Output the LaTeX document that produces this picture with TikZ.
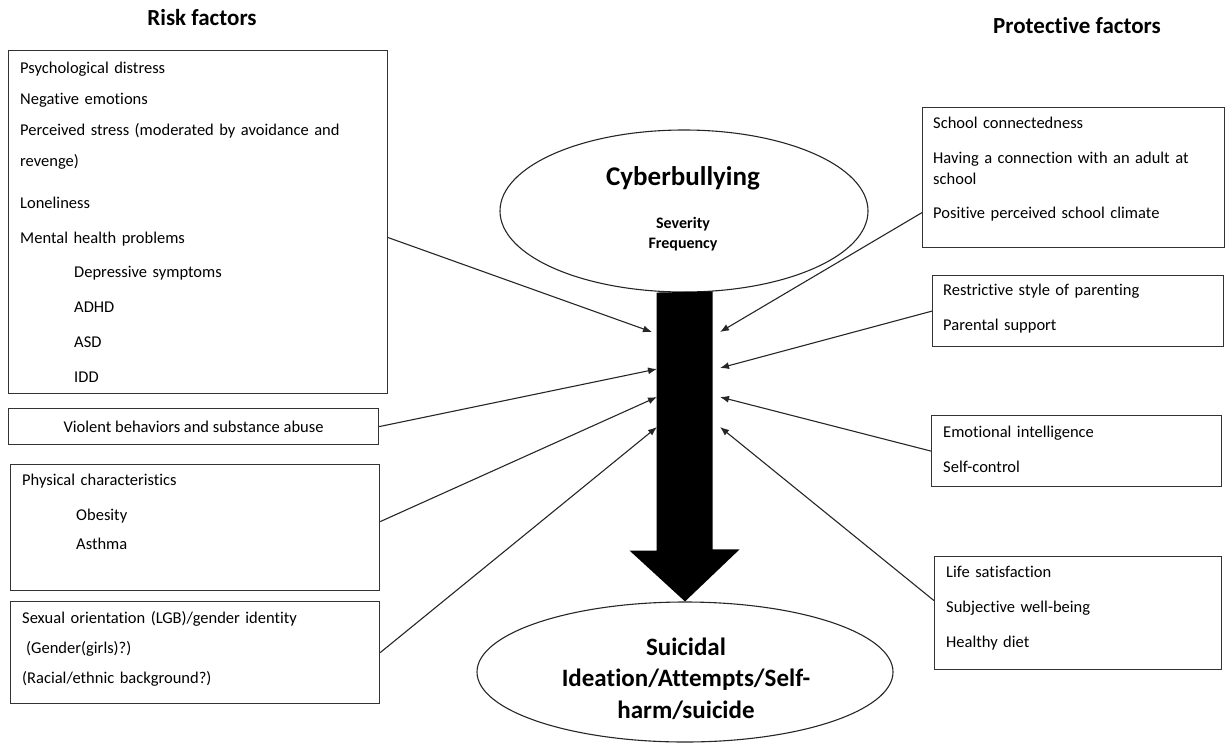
\documentclass[tikz,border=0pt]{standalone}
\usepackage{fontspec}
\setmainfont{Carlito}[Ligatures=NoCommon]
\usetikzlibrary{shapes.geometric,arrows.meta}

\tikzset{
  factbox/.style={draw=black!80, line width=1.2pt, anchor=north west, inner sep=0pt},
  factlist/.style={anchor=base west, align=left, text width=370pt, inner sep=0pt,
    font=\fontsize{16.5}{31}\selectfont},
  headline/.style={anchor=base, inner sep=0pt, font=\fontsize{23}{26}\selectfont\bfseries},
  outcome/.style={ellipse, draw=black!85, line width=1.1pt, inner sep=0pt},
  linkarrow/.style={draw=black!85, line width=1.1pt, -{Latex[length=9pt,width=7pt]}},
}
\newcommand{\indentitem}{\hspace*{54pt}}

\begin{document}
\begin{tikzpicture}[x=1pt, y=-1pt] % {{{
\useasboundingbox (0,0) rectangle (1225,744);
% Headings {{{
\node[headline] (riskhead) at (202,25) {Risk factors};
\node[headline] (protecthead) at (1077,33) {Protective factors};
% }}}
% Centre: cyberbullying -> suicidal outcome {{{
\node[outcome, minimum width=368, minimum height=162] (cyber) at (684,211) {};
\node[anchor=base, inner sep=0pt, font=\fontsize{27}{30}\selectfont\bfseries] (cybertxt) at (683,185) {Cyberbullying};
\node[anchor=base, inner sep=0pt, text width=100pt, align=center,
  font=\fontsize{16}{20}\selectfont\bfseries] (cyberdims) at (683,228) {Severity\\Frequency};
\node[outcome, minimum width=416, minimum height=140] (suicide) at (685,672) {};
\node[anchor=base, inner sep=0pt, text width=330pt, align=center,
  font=\fontsize{25}{31}\selectfont\bfseries] (suicidetxt) at (686,655)
  {Suicidal\\Ideation/Attempts/Self-\\[1pt]harm/suicide};
% big arrow
\coordinate (tail) at (cyber.south);
\coordinate (tip) at (suicide.north);
\fill[black] (tail) ++(-27.5,0) -- ++(0,258) -- ++(-27,0) -- (tip)
  -- ++(54.5,-52) -- ++(-27,0) -- ++(0,-258) -- cycle;
% arrow ends beside the shaft
\coordinate (inL1) at (652,332); \coordinate (inR1) at (720,332);
\coordinate (inL2) at (657,369); \coordinate (inR2) at (720,368);
\coordinate (inL3) at (657,397); \coordinate (inR3) at (720,397);
\coordinate (inL4) at (657,427); \coordinate (inR4) at (720,427);
% }}}
% Risk factors {{{
\node[factbox, minimum width=379, minimum height=343] (psych) at (8,50) {};
\node[factlist] (psychtxt) at (20,73) {Psychological distress\\
  Negative emotions\\
  Perceived stress (moderated by avoidance and\\
  revenge)\\[11pt]
  Loneliness\\[4pt]
  Mental health problems\\[3pt]
  \indentitem Depressive symptoms\\[4pt]
  \indentitem ADHD\\[4pt]
  \indentitem ASD\\[4pt]
  \indentitem IDD};
\node[factbox, minimum width=370, minimum height=36, font=\fontsize{16.5}{31}\selectfont] (violent) at (8,408)
  {Violent behaviors and substance abuse};
\node[factbox, minimum width=369, minimum height=126] (physical) at (10,464) {};
\node[factlist] (physicaltxt) at (22,485) {Physical characteristics\\[4pt]
  \indentitem Obesity\\[-2pt]
  \indentitem Asthma};
\node[factbox, minimum width=369, minimum height=102] (identity) at (10,601) {};
\node[factlist] (identitytxt) at (22,623) {Sexual orientation (LGB)/gender identity\\[-1pt]
  \hspace*{4pt}(Gender(girls)?)\\[-1pt]
  (Racial/ethnic background?)};
% }}}
% Protective factors {{{
\node[factbox, minimum width=302, minimum height=140] (school) at (922,107) {};
\node[factlist, text width=285pt] (schooltxt) at (933,128) {School connectedness\\[4pt]
  Having a connection with an adult at\\[-10pt]
  school\\[3pt]
  Positive perceived school climate};
\node[factbox, minimum width=291, minimum height=71] (parent) at (932,275) {};
\node[factlist, text width=275pt] (parenttxt) at (943,295) {Restrictive style of parenting\\[4pt]
  Parental support};
\node[factbox, minimum width=290, minimum height=71] (emotion) at (931,415) {};
\node[factlist, text width=275pt] (emotiontxt) at (943,437) {Emotional intelligence\\[4pt]
  Self-control};
\node[factbox, minimum width=287, minimum height=113] (wellbeing) at (934,556) {};
\node[factlist, text width=270pt] (wellbeingtxt) at (946,577) {Life satisfaction\\[4pt]
  Subjective well-being\\[4pt]
  Healthy diet};
% }}}
% Connectors {{{
\draw[linkarrow] ([yshift=-15.5pt]psych.east) -- (inL1);
\draw[linkarrow] (violent.east) -- (inL2);
\draw[linkarrow] ([yshift=6pt]physical.east) -- (inL3);
\draw[linkarrow] (identity.east) -- (inL4);
\draw[linkarrow] ([yshift=-35pt]school.west) -- (inR1);
\draw[linkarrow] (parent.west) -- (inR2);
\draw[linkarrow] (emotion.west) -- (inR3);
\draw[linkarrow] ([yshift=12.5pt]wellbeing.west) -- (inR4);
% }}}
\end{tikzpicture} % }}}
\end{document}
